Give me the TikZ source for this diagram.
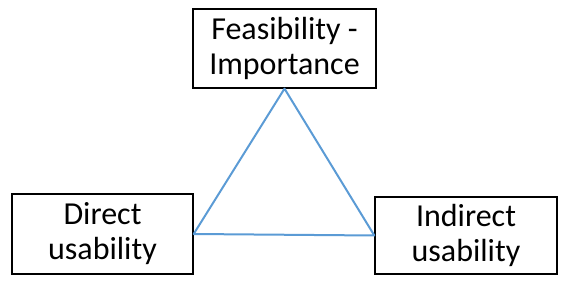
\documentclass[tikz,border=0pt]{standalone}
\usepackage{fontspec}
\setmainfont{Carlito}
\definecolor{triblue}{HTML}{5B9BD5}
\begin{document}
\begin{tikzpicture}[x=1pt,y=1pt,
  box/.style={draw=black, line width=1.3pt, fill=white, align=center, inner sep=0pt,
    font=\fontsize{32}{35}\selectfont},
  tri/.style={draw=triblue, line width=2pt, line join=round}]
\useasboundingbox (0,0) rectangle (568,284);
\node[box, minimum width=183pt, minimum height=79pt] (top) at (284.5,235.5) {Feasibility -\\Importance};
\node[box, minimum width=181pt, minimum height=80pt] (left) at (102.5,50) {Direct\\usability};
\node[box, minimum width=182pt, minimum height=77pt] (right) at (466,48.5) {Indirect\\usability};
\draw[tri] (top.south) -- (left.east) -- (right.west) -- cycle;
\end{tikzpicture}
\end{document}
